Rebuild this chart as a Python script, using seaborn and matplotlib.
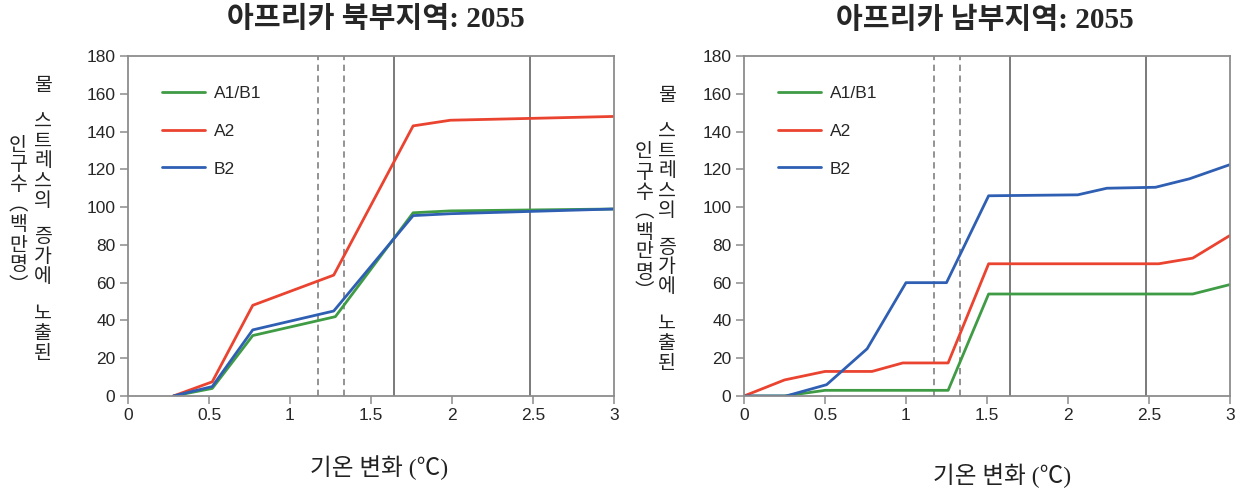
import numpy as np
import pandas as pd
import matplotlib
matplotlib.use("Agg")
import matplotlib.pyplot as plt
import seaborn as sns

# ---- data: people exposed to increased water stress (millions), 2055 ----
scenarios = ["A1/B1", "A2", "B2"]
palette = {"A1/B1": "#3f9c45", "A2": "#ea4330", "B2": "#2f5fb3"}

# Northern Africa
north_a1b1_x = [0.28, 0.52, 0.77, 1.28, 1.76, 1.99, 3.0]
north_a1b1_y = [0, 4, 32, 42, 97, 98, 99]
north_a2_x = [0.28, 0.52, 0.77, 1.27, 1.76, 1.99, 2.5, 3.0]
north_a2_y = [0, 7.5, 48, 64, 143, 146, 147, 148]
north_b2_x = [0.28, 0.52, 0.77, 1.27, 1.76, 1.99, 3.0]
north_b2_y = [0, 5, 35, 45, 95.5, 96.5, 99]

# Southern Africa
south_a1b1_x = [0, 0.25, 0.5, 1.26, 1.51, 2.77, 3.0]
south_a1b1_y = [0, 0, 3, 3, 54, 54, 59]
south_a2_x = [0, 0.25, 0.5, 0.79, 0.98, 1.26, 1.51, 2.56, 2.77, 3.0]
south_a2_y = [0, 8.5, 13, 13, 17.5, 17.5, 70, 70, 73, 85]
south_b2_x = [0, 0.26, 0.51, 0.76, 1.0, 1.25, 1.51, 2.06, 2.24, 2.54, 2.75, 3.0]
south_b2_y = [0, 0, 6, 25, 60, 60, 106, 106.5, 110, 110.5, 115, 122.5]

dashed_marks = [1.17, 1.335]
solid_marks = [1.64, 2.48]

x_ticks = [0, 0.5, 1, 1.5, 2, 2.5, 3]
x_tick_labels = ["0", "0.5", "1", "1.5", "2", "2.5", "3"]
y_ticks = [0, 20, 40, 60, 80, 100, 120, 140, 160, 180]

titles = ["아프리카 북부지역: 2055", "아프리카 남부지역: 2055"]
x_label = "기온 변화 (℃)"
y_label_outer = "인구수︵백만명︶"
y_label_inner = "물 스트레스의 증가에 노출된"


def long_frame(series):
    rows = []
    for name, xs, ys in series:
        for xv, yv in zip(xs, ys):
            rows.append({"temp": xv, "people": yv, "scenario": name})
    return pd.DataFrame(rows)


north = long_frame([
    ("A1/B1", north_a1b1_x, north_a1b1_y),
    ("A2", north_a2_x, north_a2_y),
    ("B2", north_b2_x, north_b2_y),
])
south = long_frame([
    ("A1/B1", south_a1b1_x, south_a1b1_y),
    ("A2", south_a2_x, south_a2_y),
    ("B2", south_b2_x, south_b2_y),
])

sns.set_theme(style="white")
plt.rcParams["font.family"] = ["Liberation Sans", "Noto Sans CJK KR"]

W, H = 1247, 488
fig = plt.figure(figsize=(W / 100, H / 100), dpi=100)

SERIF_KR = ["Liberation Serif", "Noto Sans CJK KR"]
SPINE = "#8c8c8c"


def add_axes_px(x0, x1, top, bottom):
    return fig.add_axes([x0 / W, 1 - bottom / H, (x1 - x0) / W, (bottom - top) / H])


def stacked_label(x_px, y_px, text, step=20.0, space=16.0):
    y = y_px
    for ch in text:
        if ch == " ":
            y += space
            continue
        fig.text(x_px / W, 1 - y / H, ch, ha="center", va="center",
                 fontsize=14, color="#222222",
                 family=["Noto Sans CJK KR", "DejaVu Sans"])
        y += step


def draw_panel(ax, data):
    sns.lineplot(data=data, x="temp", y="people", hue="scenario",
                 hue_order=scenarios, palette=palette, estimator=None,
                 sort=False, linewidth=2.0, ax=ax)
    for xv in dashed_marks:
        ax.axvline(xv, color="#8a8a8a", lw=1.3, ls=(0, (3.5, 2.5)), zorder=0)
    for xv in solid_marks:
        ax.axvline(xv, color="#7a7a7a", lw=1.4, zorder=0)
    ax.set_xlim(0, 3)
    ax.set_ylim(0, 180)
    ax.set_xticks(x_ticks)
    ax.set_xticklabels(x_tick_labels)
    ax.set_yticks(y_ticks)
    ax.set_xlabel("")
    ax.set_ylabel("")
    for s in ax.spines.values():
        s.set_color(SPINE)
        s.set_linewidth(1.3)
    ax.tick_params(direction="out", length=6, width=1.1, color=SPINE,
                   labelsize=12.5, labelcolor="#262626", pad=3,
                   bottom=True, left=True)
    handles, labels = ax.get_legend_handles_labels()
    ax.legend(handles, labels, loc="upper left", bbox_to_anchor=(0.07, 0.912),
              frameon=False, handlelength=2.5, handletextpad=0.5,
              labelspacing=1.3, borderpad=0, borderaxespad=0, fontsize=12.5)


ax_n = add_axes_px(128, 614, 56, 396)
ax_s = add_axes_px(744, 1230, 56, 396)
draw_panel(ax_n, north)
draw_panel(ax_s, south)

# panel titles
fig.text(376 / W, 1 - 19 / H, titles[0], ha="center", va="center",
         fontsize=21, fontweight="bold", family=SERIF_KR)
fig.text(985 / W, 1 - 20 / H, titles[1], ha="center", va="center",
         fontsize=21, fontweight="bold", family=SERIF_KR)

# x-axis captions
fig.text(379 / W, 1 - 468 / H, x_label, ha="center", va="center",
         fontsize=17, family=SERIF_KR, color="#222222")
fig.text(1002 / W, 1 - 476 / H, x_label, ha="center", va="center",
         fontsize=17, family=SERIF_KR, color="#222222")

# vertical y-axis captions, two stacked columns per panel
stacked_label(18, 145, y_label_outer)
stacked_label(43, 85, y_label_inner)
stacked_label(644, 152, y_label_outer)
stacked_label(667, 95, y_label_inner)

fig.savefig("out.png", dpi=100)
